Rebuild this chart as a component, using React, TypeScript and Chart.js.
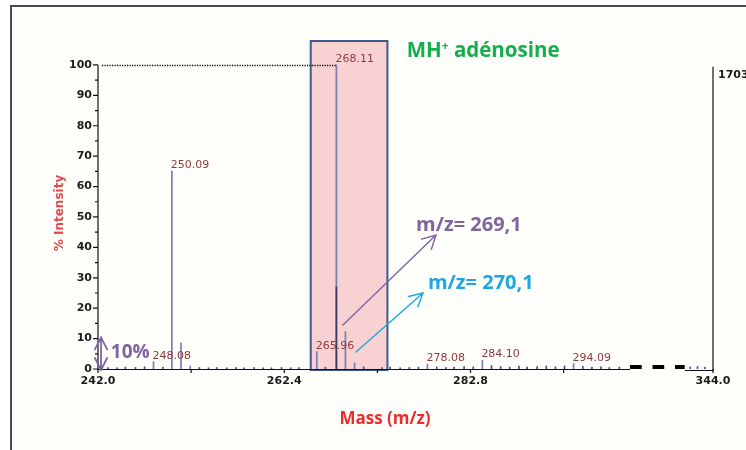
import React, { useEffect, useRef } from "react";
import { Chart, registerables } from "chart.js";

Chart.register(...registerables);

// ---------- data ----------
const PEAK_MZ = [248.08, 250.09, 251.09, 252.1, 265.96, 268.11, 269.1, 270.1, 278.08, 284.1, 294.09];
const PEAK_INT = [2.4, 65.1, 8.6, 1.0, 5.7, 100, 12.3, 2.0, 1.6, 2.8, 1.8];
const OVERLAY_MZ = [268.11];
const OVERLAY_INT = [27];
const NOISE_MZ = [243.1, 244.1, 245.0, 246.1, 247.1, 249.1, 253.1, 254.1, 255.0, 256.1, 257.1, 258.0, 259.1, 260.1, 261.0, 262.1, 263.1, 264.0, 266.9, 271.1, 273.1, 274.0, 275.1, 276.1, 277.1, 279.1, 280.1, 281.0, 282.1, 283.1, 285.1, 286.1, 287.1, 288.1, 289.0, 290.1, 291.1, 292.1, 293.1, 295.1, 296.1, 297.1, 298.0, 299.1, 341.5, 342.3, 343.1];
const NOISE_INT = [0.5, 0.4, 0.6, 0.5, 0.7, 0.6, 0.5, 0.4, 0.5, 0.4, 0.5, 0.4, 0.5, 0.4, 0.4, 0.5, 0.4, 0.5, 0.6, 0.7, 0.5, 0.6, 0.4, 0.5, 0.6, 0.7, 0.5, 0.6, 0.8, 0.7, 1.1, 0.8, 0.6, 1.0, 0.6, 0.8, 1.0, 0.7, 1.0, 0.9, 0.6, 0.7, 0.5, 0.6, 0.7, 0.8, 0.6];
const LABELED_MZ = [248.08, 250.09, 265.96, 268.11, 278.08, 284.1, 294.09];
const X_TICKS = [242.0, 252.2, 262.4, 272.6, 282.8, 293.0, 344.0];
const X_LABELED = [242.0, 262.4, 282.8, 344.0];
const Y_TICKS = [0, 5, 10, 15, 20, 25, 30, 35, 40, 45, 50, 55, 60, 65, 70, 75, 80, 85, 90, 95, 100];
const Y_LABELED = [0, 10, 20, 30, 40, 50, 60, 70, 80, 90, 100];
const BOX_MZ = [265.3, 273.7];
const FULL_SCALE = "1703";

// ---------- broken x axis ----------
const X_MIN = 242;
const BREAK_START = 300.27;
const BREAK_END_MZ = 340.9;
const BREAK_SHIFT = 34.64;
const toAxis = (mz: number) => (mz >= BREAK_END_MZ ? mz - BREAK_SHIFT : mz);
const fromAxis = (v: number) => (v > BREAK_START + 0.01 ? v + BREAK_SHIFT : v);
const X_MAX = toAxis(344.0);
const Y_MAX = 108.2;

const TICK_FONT = { family: "'DejaVu Sans'", size: 11, weight: "bold" as const };
const ANNOT_FAMILY = "'Open Sans', 'Lato', sans-serif";

function drawArrow(ctx: CanvasRenderingContext2D, x1: number, y1: number, x2: number, y2: number, color: string, both: boolean, len: number, ang: number, lw: number) {
  ctx.save();
  ctx.strokeStyle = color;
  ctx.lineWidth = lw;
  ctx.lineCap = "round";
  ctx.beginPath();
  ctx.moveTo(x1, y1);
  ctx.lineTo(x2, y2);
  const head = (tx: number, ty: number, fx: number, fy: number) => {
    const a = Math.atan2(fy - ty, fx - tx);
    ctx.moveTo(tx + len * Math.cos(a + ang), ty + len * Math.sin(a + ang));
    ctx.lineTo(tx, ty);
    ctx.lineTo(tx + len * Math.cos(a - ang), ty + len * Math.sin(a - ang));
  };
  head(x2, y2, x1, y1);
  if (both) head(x1, y1, x2, y2);
  ctx.stroke();
  ctx.restore();
}

const decorPlugin = {
  id: "decor",
  beforeDraw(chart: any) {
    const ctx = chart.ctx as CanvasRenderingContext2D;
    ctx.save();
    ctx.fillStyle = "#ffffff";
    ctx.fillRect(0, 0, chart.width, chart.height);
    ctx.fillStyle = "#fefefb";
    ctx.fillRect(10, 5, chart.width - 10, chart.height - 5);
    ctx.strokeStyle = "#4a4a4a";
    ctx.lineWidth = 2;
    ctx.beginPath();
    ctx.moveTo(11, chart.height);
    ctx.lineTo(11, 6);
    ctx.lineTo(chart.width, 6);
    ctx.stroke();
    ctx.restore();
  },
  beforeDatasetsDraw(chart: any) {
    const ctx = chart.ctx as CanvasRenderingContext2D;
    const xs = chart.scales.x, ys = chart.scales.y;
    const l = xs.getPixelForValue(toAxis(BOX_MZ[0]));
    const r = xs.getPixelForValue(toAxis(BOX_MZ[1]));
    const t = ys.getPixelForValue(Y_MAX);
    const b = ys.getPixelForValue(0) + 1;
    ctx.save();
    ctx.fillStyle = "#f8d2d3";
    ctx.fillRect(l, t, r - l, b - t);
    ctx.restore();
  },
  afterDatasetsDraw(chart: any) {
    const ctx = chart.ctx as CanvasRenderingContext2D;
    const xs = chart.scales.x, ys = chart.scales.y;
    const px = (mz: number) => xs.getPixelForValue(toAxis(mz));
    const py = (v: number) => ys.getPixelForValue(v);
    const y0 = py(0);
    const xLeft = px(X_MIN);
    const xRight = xs.getPixelForValue(X_MAX);
    ctx.save();

    // box border
    const bl = px(BOX_MZ[0]), br = px(BOX_MZ[1]);
    ctx.strokeStyle = "#3d5b8a";
    ctx.lineWidth = 2;
    ctx.strokeRect(bl, py(Y_MAX) + 1, br - bl, y0 + 1 - py(Y_MAX) - 1);

    // dotted 100% line
    ctx.strokeStyle = "#000";
    ctx.lineWidth = 1.3;
    ctx.setLineDash([1.2, 1.3]);
    ctx.beginPath();
    ctx.moveTo(xLeft + 4, Math.round(py(100)) + 0.5);
    ctx.lineTo(px(268.11), Math.round(py(100)) + 0.5);
    ctx.stroke();
    ctx.setLineDash([]);

    // y axis line + ticks
    ctx.strokeStyle = "#111";
    ctx.lineWidth = 1.2;
    ctx.beginPath();
    ctx.moveTo(xLeft, py(100));
    ctx.lineTo(xLeft, y0 + 1);
    for (const v of Y_TICKS) {
      const yy = py(v);
      const len = Y_LABELED.includes(v) ? 5 : 3;
      ctx.moveTo(xLeft - len, yy);
      ctx.lineTo(xLeft, yy);
    }
    ctx.stroke();

    // x axis (broken)
    const xBreak = xs.getPixelForValue(BREAK_START);
    const xBreakEnd = xs.getPixelForValue(toAxis(BREAK_END_MZ));
    ctx.beginPath();
    ctx.moveTo(xLeft, y0 + 0.5);
    ctx.lineTo(xBreak, y0 + 0.5);
    ctx.moveTo(xBreakEnd, y0 + 1.5);
    ctx.lineTo(xRight, y0 + 1.5);
    for (const v of X_TICKS) {
      const xx = px(v);
      ctx.moveTo(xx, y0);
      ctx.lineTo(xx, y0 + 4);
    }
    ctx.stroke();
    ctx.lineWidth = 4;
    ctx.strokeStyle = "#000";
    ctx.setLineDash([11.7, 10.8]);
    ctx.beginPath();
    ctx.moveTo(xBreak, y0 - 2);
    ctx.lineTo(xBreakEnd, y0 - 2);
    ctx.stroke();
    ctx.setLineDash([]);

    // right axis
    ctx.lineWidth = 1.2;
    ctx.strokeStyle = "#111";
    ctx.beginPath();
    ctx.moveTo(xRight, py(99.4));
    ctx.lineTo(xRight, y0 + 2);
    ctx.stroke();
    ctx.fillStyle = "#1a1a1a";
    ctx.font = "bold 11px 'DejaVu Sans'";
    ctx.textBaseline = "middle";
    ctx.textAlign = "left";
    ctx.fillText(FULL_SCALE, xRight + 5, py(96.8));

    // peak labels
    ctx.font = "11px 'DejaVu Sans'";
    ctx.fillStyle = "#8e3b3f";
    ctx.textBaseline = "alphabetic";
    for (const mz of LABELED_MZ) {
      const i = PEAK_MZ.indexOf(mz);
      const top = py(PEAK_INT[i]);
      ctx.fillText(mz.toFixed(2), px(mz) - 1, top - 3);
    }

    // axis titles
    ctx.save();
    ctx.translate(60, 213);
    ctx.rotate(-Math.PI / 2);
    ctx.font = "bold 12px 'DejaVu Sans'";
    ctx.fillStyle = "#e5474b";
    ctx.textAlign = "center";
    ctx.textBaseline = "middle";
    ctx.fillText("% Intensity", 0, 0);
    ctx.restore();

    ctx.font = `bold 17px ${ANNOT_FAMILY}`;
    ctx.fillStyle = "#ee2b2e";
    ctx.textAlign = "center";
    ctx.textBaseline = "alphabetic";
    ctx.fillText("Mass (m/z)", 385, 423.5);

    // annotations
    const purple = "#8064a2";
    const cyan = "#1ea6df";
    const green = "#14ae4c";
    drawArrow(ctx, px(268.83), py(14.47), px(279.02), py(44.08), purple, false, 15, (28 * Math.PI) / 180, 1.4);
    drawArrow(ctx, px(270.26), py(5.59), px(277.6), py(25.0), cyan, false, 15, (28 * Math.PI) / 180, 1.4);
    drawArrow(ctx, px(242.33), py(10.4), px(242.33), py(-0.33), purple, true, 13.5, (27 * Math.PI) / 180, 1.8);

    ctx.textAlign = "left";
    ctx.font = `bold 19px ${ANNOT_FAMILY}`;
    ctx.fillStyle = purple;
    ctx.fillText("10%", px(243.4), py(3.52));
    ctx.font = `bold 20px ${ANNOT_FAMILY}`;
    ctx.fillText("m/z= 269,1", px(276.83), py(45.5));
    ctx.fillStyle = cyan;
    ctx.fillText("m/z= 270,1", px(278.14), py(26.3));

    ctx.fillStyle = green;
    let tx = px(275.81);
    const by = py(102.5);
    ctx.font = `bold 20.5px ${ANNOT_FAMILY}`;
    ctx.fillText("MH", tx, by);
    tx += ctx.measureText("MH").width;
    ctx.font = `bold 12px ${ANNOT_FAMILY}`;
    ctx.fillText("+", tx, by - 7);
    tx += ctx.measureText("+").width;
    ctx.font = `bold 20.5px ${ANNOT_FAMILY}`;
    ctx.fillText(" adénosine", tx, by);

    ctx.restore();
  },
};

export default function App() {
  const ref = useRef<HTMLCanvasElement>(null);
  useEffect(() => {
    const canvas = ref.current!;
    const bars = (mzs: number[], ints: number[]) => mzs.map((m, i) => ({ x: toAxis(m), y: ints[i] }));
    const chart = new Chart(canvas, {
      type: "bar",
      data: {
        datasets: [
          { label: "overlay", data: bars(OVERLAY_MZ, OVERLAY_INT), backgroundColor: "#3a3a62", barThickness: 1, grouped: false } as any,
          { label: "peaks", data: bars(PEAK_MZ, PEAK_INT), backgroundColor: "#7a7ab4", barThickness: 1, grouped: false } as any,
          { label: "noise", data: bars(NOISE_MZ, NOISE_INT), backgroundColor: "#4a4a92", barThickness: 1, grouped: false } as any,
        ],
      },
      options: {
        responsive: false,
        animation: false,
        devicePixelRatio: 1,
        layout: { padding: { top: 40, right: 33, left: 0, bottom: 0 } },
        plugins: { legend: { display: false }, tooltip: { enabled: false } },
        scales: {
          x: {
            type: "linear",
            offset: false,
            min: X_MIN,
            max: X_MAX,
            grid: { display: false, drawTicks: false, offset: false },
            border: { display: false },
            afterBuildTicks: (s: any) => {
              s.ticks = X_TICKS.map((v) => ({ value: toAxis(v) }));
            },
            afterFit: (s: any) => {
              s.height = 81;
            },
            ticks: {
              autoSkip: false,
              maxRotation: 0,
              padding: 6,
              color: "#1a1a1a",
              font: TICK_FONT,
              callback: (v: any) => {
                const m = fromAxis(Number(v));
                return X_LABELED.some((l) => Math.abs(l - m) < 0.01) ? m.toFixed(1) : "";
              },
            },
          },
          y: {
            type: "linear",
            min: 0,
            max: Y_MAX,
            grid: { display: false, drawTicks: false },
            border: { display: false },
            afterBuildTicks: (s: any) => {
              s.ticks = Y_TICKS.map((v) => ({ value: v }));
            },
            afterFit: (s: any) => {
              s.width = 98;
            },
            ticks: {
              autoSkip: false,
              padding: 6,
              color: "#1a1a1a",
              font: TICK_FONT,
              callback: (v: any) => (Y_LABELED.includes(Number(v)) ? String(v) : ""),
            },
          },
        },
      } as any,
      plugins: [decorPlugin],
    });
    return () => chart.destroy();
  }, []);
  return (
    <div style={{ position: "absolute", left: 0, top: 0, width: 746, height: 450 }}>
      <canvas ref={ref} width={746} height={450} style={{ display: "block", width: 746, height: 450 }} />
    </div>
  );
}
